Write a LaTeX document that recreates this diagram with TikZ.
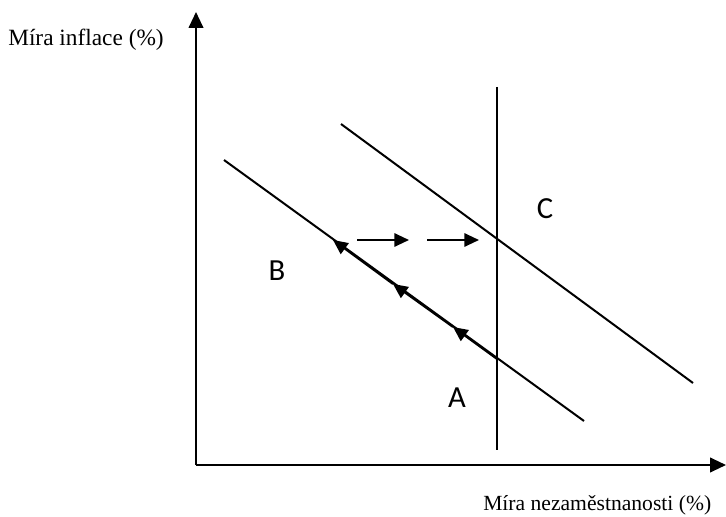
\documentclass[tikz,border=0pt]{standalone}
\usepackage{fontspec}
\setmainfont{Liberation Serif}
\newfontfamily\lblfont{Carlito}
\usetikzlibrary{arrows.meta}
\begin{document}
\begin{tikzpicture}[x=0.75pt,y=-0.75pt,
  ln/.style={line width=1.5pt},
  axis/.style={line width=1.5pt,-{Triangle[length=12pt,width=11pt]}},
  arr/.style={line width=1.5pt,-{Triangle[length=11pt,width=10pt]}},
  axlbl/.style={font=\fontsize{17.5}{20}\selectfont,inner sep=0pt},
  reg/.style={font=\lblfont\fontsize{23}{26}\selectfont,inner sep=0pt}]
\useasboundingbox (0,0) rectangle (726,517);
% axes
\coordinate (o) at (196,465);
\coordinate (ytop) at (196,12);
\coordinate (xend) at (726,465);
\draw[axis] (o) -- (ytop);
\draw[axis] (o) -- (xend);
\node[axlbl,anchor=west] (ylab) at (8,40) {Míra inflace (\%)};
\node[axlbl,font=\fontsize{16.2}{19}\selectfont,anchor=west] (xlab) at (483,505) {Míra nezaměstnanosti (\%)};
% curves
\coordinate (l1a) at (224,160);
\coordinate (l1b) at (584,421);
\coordinate (l2a) at (341,124);
\coordinate (l2b) at (693,383);
\coordinate (va) at (497,87);
\coordinate (vb) at (497,450);
\draw[ln] (l1a) -- (l1b);
\draw[ln] (l2a) -- (l2b);
\draw[ln] (va) -- (vb);
% arrows along lower line
\coordinate (p0) at (497,359);
\coordinate (p1) at (453,327);
\coordinate (p2) at (393,284);
\coordinate (p3) at (333,240);
\draw[arr] (p0) -- (p1);
\draw[arr] (p1) -- (p2);
\draw[arr] (p2) -- (p3);
% horizontal arrows
\coordinate (h1a) at (357,240);
\coordinate (h1b) at (409,240);
\coordinate (h2a) at (427,240);
\coordinate (h2b) at (479,240);
\draw[arr] (h1a) -- (h1b);
\draw[arr] (h2a) -- (h2b);
% labels
\node[reg] (B) at (277,271) {B};
\node[reg] (C) at (545,209) {C};
\node[reg] (A) at (457,398) {A};
\end{tikzpicture}
\end{document}
